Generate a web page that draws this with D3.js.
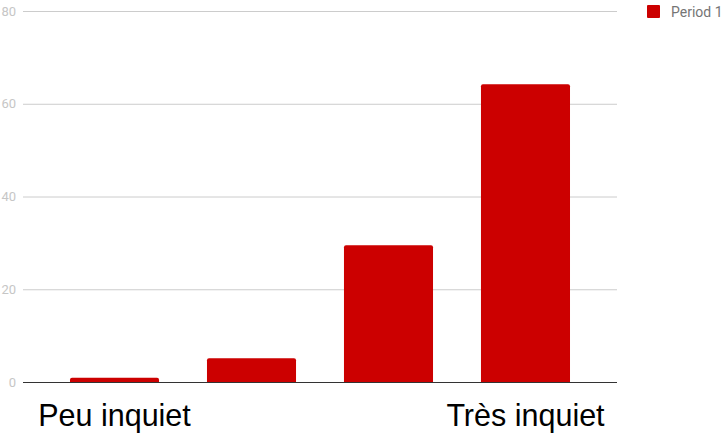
<!DOCTYPE html>
<html><head><meta charset="utf-8">
<script src="https://cdn.jsdelivr.net/npm/d3@7"></script>
<style>body{margin:0;background:#fff}svg{display:block}</style>
</head><body><svg id="c" width="723" height="433"></svg>
<script>
const categories = ["Peu inquiet", "B", "C", "Très inquiet"];
const categoryLabels = ["Peu inquiet", "", "", "Très inquiet"];
const values = [0.9, 5.1, 29.5, 64.2];
const yTicks = [0, 20, 40, 60, 80];
const seriesName = "Period 1";

const svg = d3.select("#c");
const m = {l: 23, r: 617, t: 11, b: 382};
const x = d3.scaleBand().domain(categories).range([m.l, m.r]).paddingInner(0.35).paddingOuter(0.343);
const y = d3.scaleLinear().domain([0, 80]).range([m.b, m.t]);

// gridlines
svg.append("g").selectAll("line").data(yTicks.filter(d => d > 0)).join("line")
  .attr("x1", m.l).attr("x2", m.r)
  .attr("y1", d => y(d) + 0.5).attr("y2", d => y(d) + 0.5)
  .attr("stroke", "#cccccc").attr("stroke-width", 1);

// y tick labels
svg.append("g").selectAll("text").data(yTicks).join("text")
  .attr("x", 16).attr("y", d => y(d)).attr("dy", "0.35em")
  .attr("text-anchor", "end")
  .attr("font-family", "Roboto, Arial, sans-serif").attr("font-size", 13)
  .attr("fill", "#c6c6c6").text(d => d);

// bars
svg.append("g").selectAll("path").data(values).join("path")
  .attr("d", (d, i) => {
    const x0 = x(categories[i]), w = x.bandwidth(), y0 = y(d), y1 = y(0);
    const r = Math.min(2, (y1 - y0) / 2);
    return `M${x0},${y1}V${y0 + r}Q${x0},${y0} ${x0 + r},${y0}H${x0 + w - r}Q${x0 + w},${y0} ${x0 + w},${y0 + r}V${y1}Z`;
  })
  .attr("fill", "#cc0000");

// baseline
svg.append("line").attr("x1", m.l).attr("x2", m.r)
  .attr("y1", y(0) + 0.5).attr("y2", y(0) + 0.5)
  .attr("stroke", "#333333").attr("stroke-width", 1);

// category labels
svg.append("g").selectAll("text").data(categories).join("text")
  .attr("x", d => x(d) + x.bandwidth() / 2).attr("y", 426)
  .attr("text-anchor", "middle")
  .attr("font-family", "'Liberation Sans', Arial, sans-serif").attr("font-size", 30.5)
  .attr("fill", "#000").text((d, i) => categoryLabels[i]);

// legend
svg.append("rect").attr("x", 647).attr("y", 5).attr("width", 13).attr("height", 13)
  .attr("rx", 1).attr("fill", "#cc0000");
svg.append("text").attr("x", 671).attr("y", 12).attr("dy", "0.35em")
  .attr("font-family", "Roboto, Arial, sans-serif").attr("font-size", 14)
  .attr("fill", "#757575").text(seriesName);
</script></body></html>
